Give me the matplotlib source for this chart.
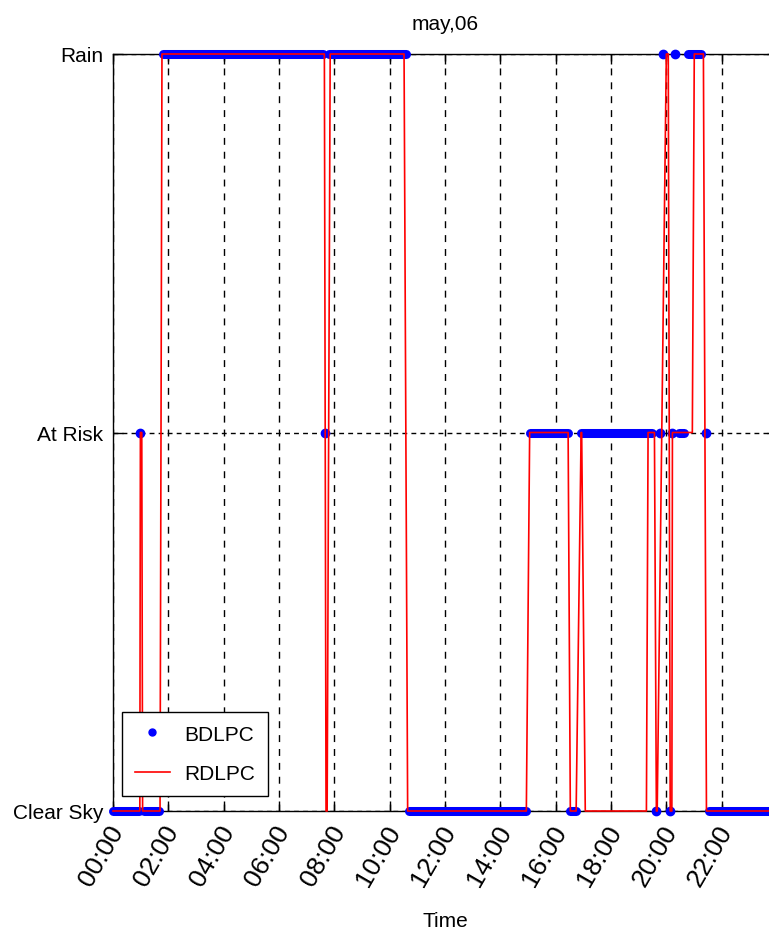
import matplotlib
matplotlib.use('Agg')
import matplotlib.pyplot as plt
from matplotlib.lines import Line2D
from matplotlib.transforms import ScaledTranslation

plt.rcParams['font.family'] = ['Liberation Sans', 'DejaVu Sans']

# weather states: 0 = Clear Sky, 1 = At Risk, 2 = Rain
levels = ['Clear Sky', 'At Risk', 'Rain']
tick_hours = [0, 2, 4, 6, 8, 10, 12, 14, 16, 18, 20, 22]
tick_labels = ['00:00', '02:00', '04:00', '06:00', '08:00', '10:00',
               '12:00', '14:00', '16:00', '18:00', '20:00', '22:00']

# RDLPC (red line), time in hours
red_t = [0.0, 0.97, 0.99, 1.04, 1.07, 1.70, 1.77, 7.64, 7.70, 7.74, 7.85,
         10.52, 10.65, 14.94, 15.06, 16.45, 16.53, 16.74, 16.92, 16.94, 17.07,
         19.28, 19.34, 19.57, 19.64, 19.67, 20.00, 20.07, 20.14, 20.20, 20.22,
         20.94, 21.01, 21.34, 21.45, 24.0]
red_v = [0, 0, 1, 1, 0, 0, 2, 2, 0, 0, 2,
         2, 0, 0, 1, 1, 0, 0, 1, 1, 0,
         0, 1, 1, 0, 0, 2, 2, 0, 0, 1,
         1, 2, 2, 0, 0]

# BDLPC (blue dots): dense runs of samples and isolated samples
run_start = [0.0, 1.12, 1.82, 7.82, 10.70, 15.08, 16.53, 16.90, 20.47, 20.80, 21.56]
run_end = [0.93, 1.66, 7.60, 10.59, 14.94, 16.43, 16.74, 19.49, 20.65, 21.26, 24.0]
run_level = [0, 0, 2, 2, 0, 1, 0, 1, 1, 2, 0]
pt_t = [0.99, 7.68, 19.64, 19.78, 19.89, 20.14, 20.22, 20.33, 21.45]
pt_v = [1, 1, 0, 1, 2, 0, 1, 2, 1]

fig = plt.figure(figsize=(7.69, 9.37), dpi=100)
ax = fig.add_axes([113/769, 125/937, 664/769, 757/937])

for s, e, v in zip(run_start, run_end, run_level):
    ax.plot([s, e], [v, v], color='b', lw=6.5, solid_capstyle='round',
            zorder=4, clip_on=False)
ax.plot(pt_t, pt_v, 'o', color='b', ms=6, zorder=4, clip_on=False)
ax.plot(red_t, red_v, color='r', lw=1.2, zorder=5, clip_on=False)

ax.set_xlim(0, 24)
ax.set_ylim(0, 2)
ax.xaxis.grid(True, color='k', ls=(0, (5, 5)), lw=1)
ax.yaxis.grid(True, color='k', ls=(0, (3.5, 3)), lw=1)
ax.set_axisbelow(True)
for sp in ax.spines.values():
    sp.set_color('k')
    sp.set_linewidth(1)

ax.set_yticks([0, 1, 2], levels, fontsize=15)
ax.set_xticks(tick_hours, tick_labels, rotation=60, ha='right', va='center',
              rotation_mode='anchor', fontsize=19)
ax.tick_params(direction='in', length=7, width=1, top=True, right=True)
ax.tick_params(axis='x', pad=11)
ax.tick_params(axis='y', pad=7)
# nudge the slanted time labels a little to the right
off = ScaledTranslation(5/100, 0, fig.dpi_scale_trans)
for lbl in ax.get_xticklabels():
    lbl.set_transform(lbl.get_transform() + off)

ax.set_title('may,06', fontsize=15, pad=18)
ax.set_xlabel('Time', fontsize=15)
ax.xaxis.set_label_coords(0.5, -110/757)
ax.xaxis.label.set_va('center')

handles = [Line2D([], [], color='b', marker='o', ls='none', ms=5),
           Line2D([], [], color='r', lw=1.2)]
leg = ax.legend(handles, ['BDLPC', 'RDLPC'], loc='lower left',
                bbox_to_anchor=(9/664, 15/757), borderaxespad=0,
                fancybox=False, edgecolor='k', framealpha=1, fontsize=15,
                handlelength=1.7, handletextpad=0.7, labelspacing=1.0,
                borderpad=0.6)
leg.get_frame().set_linewidth(1)
leg.set_zorder(6)

fig.savefig('out.png', dpi=100)
